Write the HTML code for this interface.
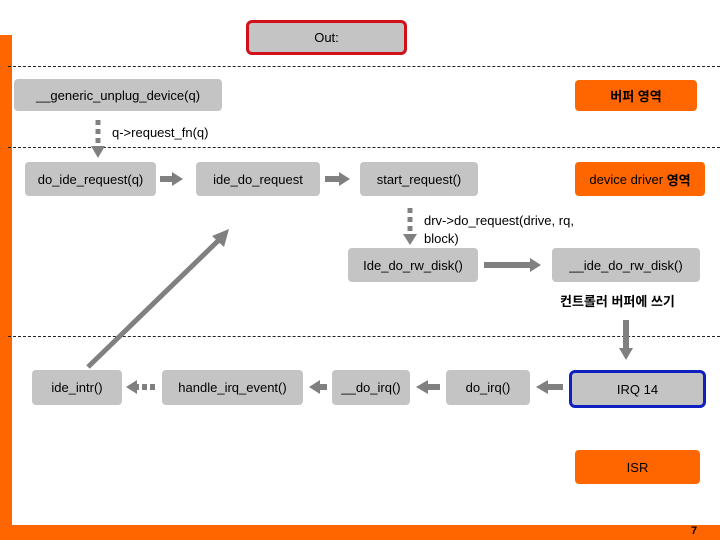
<!DOCTYPE html>
<html><head><meta charset="utf-8"><style>
body{margin:0;width:720px;height:540px;position:relative;background:#fff;overflow:hidden;font-family:"Liberation Sans","Noto Sans CJK KR",sans-serif;font-size:13px;color:#000}
.b{position:absolute;background:#c4c4c4;border-radius:4px;display:flex;align-items:center;justify-content:center;box-sizing:border-box;white-space:nowrap}
.o{background:#ff6600}
.d{position:absolute;left:8px;width:712px;border-top:1.5px dashed #222;height:0}
.t{position:absolute;white-space:nowrap;font-size:13px}
</style></head><body>
<div style="position:absolute;left:0;top:35px;width:12px;height:505px;background:#ff6600"></div>
<div style="position:absolute;left:0;top:525px;width:720px;height:15px;background:#ff6600"></div>
<div class="t" style="left:691px;top:525px;font-size:11px;font-weight:bold">7</div>
<div class="b" style="left:246px;top:20px;width:161px;height:35px;border:3px solid #d0101a;border-radius:6px">Out:</div>
<div class="d" style="top:66px"></div>
<div class="d" style="top:147px"></div>
<div class="d" style="top:336px"></div>
<div class="b" style="left:14px;top:79px;width:208px;height:32px">__generic_unplug_device(q)</div>
<div class="b o" style="left:575px;top:80px;width:122px;height:31px;font-weight:bold">버퍼 영역</div>
<div class="t" style="left:112px;top:125px">q-&gt;request_fn(q)</div>
<div class="b" style="left:25px;top:162px;width:131px;height:34px">do_ide_request(q)</div>
<div class="b" style="left:196px;top:162px;width:124px;height:34px">ide_do_request</div>
<div class="b" style="left:360px;top:162px;width:118px;height:34px">start_request()</div>
<div class="b o" style="left:575px;top:162px;width:130px;height:34px">device driver&nbsp;<b>영역</b></div>
<div class="t" style="left:424px;top:212px;line-height:18px">drv-&gt;do_request(drive, rq,<br>block)</div>
<div class="b" style="left:348px;top:248px;width:130px;height:34px">Ide_do_rw_disk()</div>
<div class="b" style="left:552px;top:248px;width:148px;height:34px">__ide_do_rw_disk()</div>
<div class="t" style="left:560px;top:291px;font-weight:bold">컨트롤러 버퍼에 쓰기</div>
<div class="b" style="left:32px;top:370px;width:90px;height:35px">ide_intr()</div>
<div class="b" style="left:162px;top:370px;width:141px;height:35px">handle_irq_event()</div>
<div class="b" style="left:332px;top:370px;width:78px;height:35px">__do_irq()</div>
<div class="b" style="left:446px;top:370px;width:84px;height:35px">do_irq()</div>
<div class="b" style="left:569px;top:370px;width:137px;height:38px;border:3px solid #1020c0;border-radius:6px">IRQ 14</div>
<div class="b o" style="left:575px;top:450px;width:125px;height:34px">ISR</div>
<svg style="position:absolute;left:0;top:0" width="720" height="540">
<g fill="#808080" stroke="#808080">
<line x1="98" y1="120" x2="98" y2="146" stroke-width="5" stroke-dasharray="5,4"/>
<polygon points="91,146 105,146 98,158" stroke="none"/>
<line x1="410" y1="208" x2="410" y2="234" stroke-width="5" stroke-dasharray="5,4"/>
<polygon points="403,234 417,234 410,245" stroke="none"/>
<line x1="160" y1="179" x2="172" y2="179" stroke-width="6"/><polygon points="172,172 183,179 172,186" stroke="none"/>
<line x1="325" y1="179" x2="339" y2="179" stroke-width="6"/><polygon points="339,172 350,179 339,186" stroke="none"/>
<line x1="484" y1="265" x2="530" y2="265" stroke-width="6"/><polygon points="530,258 541,265 530,272" stroke="none"/>
<line x1="626" y1="320" x2="626" y2="348" stroke-width="6"/><polygon points="619,348 633,348 626,360" stroke="none"/>
<line x1="563" y1="387" x2="548" y2="387" stroke-width="6"/><polygon points="548,380 536,387 548,394" stroke="none"/>
<line x1="440" y1="387" x2="428" y2="387" stroke-width="6"/><polygon points="428,380 416,387 428,394" stroke="none"/>
<line x1="327" y1="387" x2="320" y2="387" stroke-width="6"/><polygon points="320,380 309,387 320,394" stroke="none"/>
<line x1="155" y1="387" x2="137" y2="387" stroke-width="6" stroke-dasharray="5,3"/><polygon points="137,380 126,387 137,394" stroke="none"/>
<line x1="88" y1="367" x2="222" y2="237" stroke-width="5"/><polygon points="229,229 212,236 224,247" stroke="none"/>
</g></svg>
</body></html>
